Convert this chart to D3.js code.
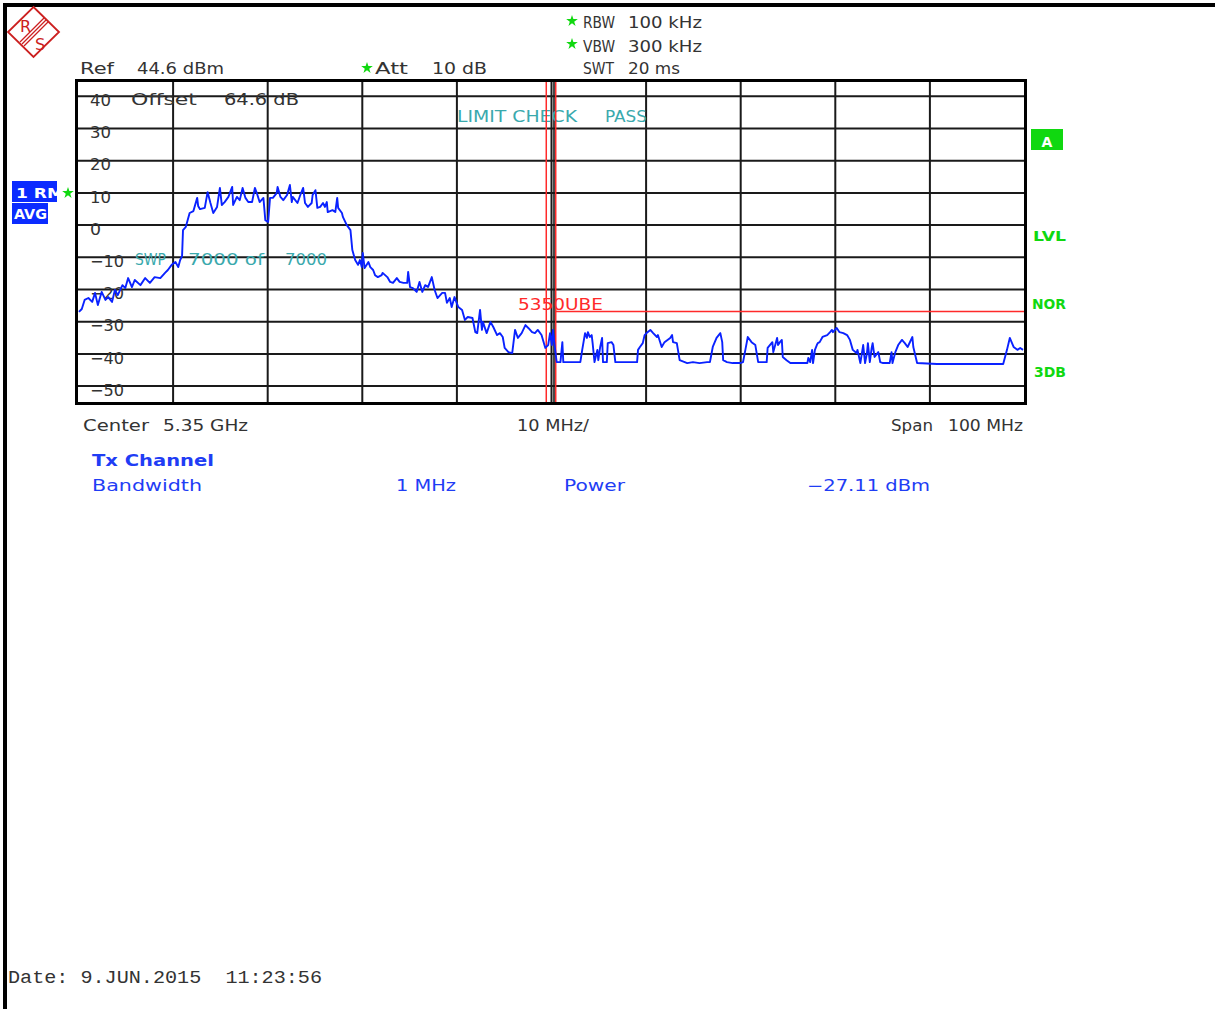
<!DOCTYPE html>
<html><head><meta charset="utf-8">
<script src="https://cdn.jsdelivr.net/npm/d3@7"></script>
<style>html,body{margin:0;padding:0;background:#fff;} svg{display:block;} text{white-space:pre;}</style>
</head><body>
<svg id="c" width="1215" height="1009"></svg>
<script>
// ---------- data ----------
const centerGHz = 5.35;
const freqMHz = [
-49.9,-49.6,-49.3,-48.9,-48.5,-48.2,-47.9,-47.5,-47.1,-46.8,
-46.4,-46.1,-45.8,-45.3,-45.0,-44.7,-44.3,-44.0,-43.4,-42.9,
-42.4,-41.9,-41.3,-40.8,-40.5,-40.1,-39.7,-39.4,-39.2,-39.0,
-38.9,-38.6,-38.2,-37.8,-37.4,-37.3,-37.1,-36.6,-36.3,-36.0,
-35.7,-35.3,-35.0,-34.8,-34.5,-34.1,-33.7,-33.6,-33.2,-32.9,
-32.6,-32.3,-32.0,-31.6,-31.3,-31.1,-30.8,-30.4,-30.2,-29.9,
-29.7,-29.4,-29.0,-28.9,-28.6,-28.3,-27.9,-27.6,-27.4,-27.3,
-26.8,-26.5,-26.2,-26.0,-25.7,-25.3,-25.2,-24.9,-24.7,-24.4,
-24.1,-23.9,-23.7,-23.6,-23.1,-22.8,-22.6,-22.5,-22.1,-22.0,
-21.6,-21.2,-21.0,-20.7,-20.4,-20.2,-20.0,-19.9,-19.7,-19.3,
-19.1,-18.8,-18.6,-18.3,-17.9,-17.8,-17.3,-17.0,-16.7,-16.3,
-16.0,-15.6,-15.2,-15.1,-14.9,-14.6,-14.2,-13.9,-13.6,-13.3,
-13.0,-12.6,-12.3,-12.0,-11.5,-11.2,-11.0,-10.7,-10.5,-10.2,
-9.8,-9.4,-9.1,-8.8,-8.3,-8.0,-7.8,-7.5,-7.3,-7.2,
-6.8,-6.4,-6.1,-5.7,-5.4,-5.1,-4.9,-4.5,-4.1,-3.8,
-3.5,-3.1,-2.7,-2.4,-2.0,-1.7,-1.4,-1.0,-0.6,-0.3,
-0.1,0.1,0.2,0.4,0.6,1.0,1.2,1.3,1.7,3.1,
3.3,3.6,3.8,3.9,4.1,4.3,4.4,4.6,4.9,5.0,
5.2,5.4,5.5,5.9,6.0,6.4,6.6,6.8,9.1,9.2,
9.4,9.7,9.9,10.2,10.5,10.8,11.2,11.3,11.7,12.0,
12.6,12.8,12.9,13.3,13.6,14.4,15.0,15.7,16.5,16.8,
17.1,17.5,17.9,18.1,18.2,18.6,19.2,20.0,20.3,20.7,
20.8,21.2,21.6,21.9,22.8,22.9,23.4,23.5,23.9,24.0,
24.2,24.4,24.5,24.9,25.3,27.1,27.2,27.4,27.6,27.7,
27.9,28.1,28.2,28.4,28.7,29.2,29.5,29.7,29.8,30.2,
30.5,30.9,31.3,31.6,31.9,32.3,32.4,32.7,33.0,33.2,
33.4,33.5,33.7,33.9,34.0,34.2,34.6,34.8,35.1,35.8,
36.0,36.1,36.4,36.7,37.1,37.4,37.7,38.2,38.3,38.7,
40.8,47.8,48.2,48.5,48.9,49.3,49.6,49.9];
const levelDbm = [
-27.1,-26.2,-23.4,-22.8,-24.0,-21.2,-25.0,-20.9,-23.4,-22.5,
-24.0,-20.3,-21.9,-18.8,-19.7,-16.6,-19.4,-17.2,-18.8,-16.6,
-18.1,-16.3,-16.6,-15.0,-14.1,-12.5,-11.6,-13.2,-11.0,-9.8,
-1.7,-0.7,3.6,4.2,8.3,5.8,4.8,5.2,10.1,6.7,
3.6,5.5,11.4,6.1,7.0,8.6,11.7,6.1,8.6,7.6,
11.4,8.3,7.0,7.0,11.4,9.8,7.0,8.3,1.4,0.8,
8.3,8.3,9.8,11.7,8.6,7.6,9.2,12.3,7.0,8.6,
6.7,9.2,11.4,6.7,5.5,6.7,9.2,10.7,5.2,5.5,
6.7,5.5,7.0,3.9,4.5,3.9,8.3,5.2,3.6,2.4,
-0.1,-1.7,-7.9,-11.0,-12.5,-11.0,-13.2,-8.8,-13.5,-11.6,
-13.2,-14.1,-15.7,-16.3,-15.7,-15.0,-16.3,-17.8,-18.1,-16.6,
-17.8,-18.1,-18.1,-14.7,-19.4,-19.7,-20.9,-17.8,-20.9,-18.8,
-19.4,-16.3,-20.3,-22.8,-21.2,-21.2,-24.3,-22.8,-25.6,-22.5,
-25.6,-26.5,-29.6,-28.7,-29.0,-33.4,-33.7,-26.5,-32.7,-30.2,
-33.7,-30.2,-31.8,-34.3,-33.7,-34.9,-38.3,-39.6,-39.9,-32.7,
-35.2,-33.7,-31.2,-32.1,-33.4,-33.7,-32.7,-34.3,-38.3,-37.4,
-33.7,-37.4,-32.7,-38.0,-42.7,-42.7,-36.5,-42.7,-42.7,-42.7,
-38.9,-33.7,-35.2,-33.4,-34.9,-34.3,-36.8,-42.7,-38.9,-42.1,
-38.0,-35.2,-42.7,-42.7,-36.8,-36.5,-37.4,-42.7,-42.7,-38.9,
-38.0,-36.8,-34.3,-33.4,-32.7,-33.7,-34.9,-34.3,-38.0,-36.5,
-35.2,-34.3,-36.5,-36.8,-42.1,-43.0,-42.7,-43.0,-42.7,-42.7,
-38.0,-35.2,-33.7,-36.5,-42.1,-42.7,-43.0,-43.0,-42.7,-36.5,
-34.9,-36.5,-37.4,-42.7,-42.7,-38.3,-36.5,-39.6,-35.2,-37.4,
-36.5,-35.8,-41.1,-42.1,-43.0,-43.0,-41.4,-42.7,-38.9,-43.0,
-38.9,-37.4,-36.8,-36.5,-34.9,-34.3,-33.4,-32.7,-33.4,-32.1,
-33.4,-33.7,-34.3,-35.8,-38.9,-39.9,-38.9,-43.0,-37.4,-43.0,
-39.9,-36.8,-42.7,-38.3,-36.8,-41.1,-39.6,-42.7,-43.0,-43.0,
-39.6,-43.0,-39.6,-37.4,-35.8,-36.8,-38.0,-34.9,-38.0,-43.0,
-43.3,-43.3,-38.9,-35.2,-38.0,-38.9,-38.3,-38.9];
const yTickValues = [40,30,20,10,0,-10,-20,-30,-40,-50];
const xGridValues = [-40,-30,-20,-10,0,10,20,30,40];
const spanMHz = [-50, 50];
const refLevelDbm = 44.6, bottomLevelDbm = -55.4;
const channelEdgesMHz = [-0.5, 0.5];
const limitFreqMHz = [0.5, 50];
const limitDbm = [-27, -27];

// ---------- layout ----------
const svg = d3.select("#c");
const L = 78, R = 1024, T = 81, B = 403;
const x = d3.scaleLinear().domain(spanMHz).range([L, R]);
const y = d3.scaleLinear().domain([bottomLevelDbm, refLevelDbm]).range([B, T]);
const DARK = "#333", TEAL = "#3aa9ad", RED = "#ff2a2a", BLUE = "#1f3df5", GREEN = "#10d810", TRACE = "#0a22ff";
const FONT = "'DejaVu Sans', sans-serif";

function txt(s, tx, ty, w, o = {}) {
  const t = svg.append("text").attr("x", tx).attr("y", ty).text(s)
    .attr("font-family", o.family || FONT).attr("font-size", o.size || 15)
    .attr("fill", o.fill || DARK).attr("font-weight", o.weight || "normal");
  if (w) t.attr("textLength", w).attr("lengthAdjust", "spacingAndGlyphs");
  if (o.anchor) t.attr("text-anchor", o.anchor);
  return t;
}
function star(cx, cy) {
  svg.append("path").attr("d", d3.symbol(d3.symbolStar, 42)()).attr("transform", `translate(${cx},${cy})`).attr("fill", GREEN);
}

// outer page frame
svg.append("rect").attr("x", 3).attr("y", 3).attr("width", 4).attr("height", 1006).attr("fill", "#000");
svg.append("rect").attr("x", 3).attr("y", 3).attr("width", 1212).attr("height", 4).attr("fill", "#000");

// R&S logo
const logo = svg.append("g").attr("stroke", "#cc2020").attr("fill", "none");
logo.append("path").attr("d", "M33.5,7 L59,32 L33.5,57 L8,32 Z").attr("stroke-width", 1.8);
[-2, 0, 2].forEach(o => logo.append("line").attr("x1", 22 + o).attr("y1", 44 + o).attr("x2", 46 + o).attr("y2", 20 + o).attr("stroke-width", 1.2));
txt("R", 20, 32, null, {fill: "#cc2020", size: 16});
txt("S", 35, 50, null, {fill: "#cc2020", size: 16});

// header
txt("Ref", 80, 74, 34); txt("44.6 dBm", 137, 74, 87);
star(367, 68); txt("Att", 375, 74, 33); txt("10 dB", 432, 74, 55);
star(572, 21); txt("RBW", 583, 28, 32); txt("100 kHz", 628, 28, 74);
star(572, 44); txt("VBW", 583, 51.5, 32); txt("300 kHz", 628, 51.5, 74);
txt("SWT", 583, 74, 31); txt("20 ms", 628, 74, 52);

// left trace boxes
svg.append("clipPath").attr("id", "bx1").append("rect").attr("x", 12).attr("y", 181).attr("width", 45).attr("height", 21);
svg.append("rect").attr("x", 12).attr("y", 181).attr("width", 45).attr("height", 21).attr("fill", "#0b2bff");
txt("1 RM", 16, 198, 48, {fill: "#fff", weight: "bold", size: 14}).attr("clip-path", "url(#bx1)");
svg.append("rect").attr("x", 12).attr("y", 203).attr("width", 36).attr("height", 21).attr("fill", "#0b2bff");
txt("AVG", 14, 219, 33, {fill: "#fff", weight: "bold", size: 14});
star(68, 193);

// grid
const grid = svg.append("g");
grid.append("g").attr("transform", `translate(0,${B})`)
  .call(d3.axisBottom(x).tickValues(xGridValues).tickSize(-(B - T)).tickFormat(""))
  .call(g => g.select(".domain").remove())
  .call(g => g.selectAll("line").attr("stroke", "#1a1a1a").attr("stroke-width", 2));
grid.append("g").attr("transform", `translate(${L},0)`)
  .call(d3.axisLeft(y).tickValues(yTickValues).tickSize(-(R - L)).tickFormat(""))
  .call(g => g.select(".domain").remove())
  .call(g => g.selectAll("line").attr("stroke", "#1a1a1a").attr("stroke-width", 2));
// second center line
svg.append("line").attr("x1", x(0) + 3).attr("x2", x(0) + 3).attr("y1", T).attr("y2", B).attr("stroke", "#1a1a1a").attr("stroke-width", 1.6);

// y labels (inside plot)
svg.append("g").attr("transform", `translate(${L},4.5)`)
  .call(d3.axisRight(y).tickValues(yTickValues).tickSize(0).tickPadding(12)
    .tickFormat(d => d < 0 ? "\u2212" + Math.abs(d) : String(d)))
  .call(g => g.select(".domain").remove())
  .call(g => g.selectAll("text").attr("font-family", FONT).attr("font-size", 16).attr("fill", DARK)
    .attr("textLength", d => d < 0 ? 34 : (d === 0 ? 11 : 21)).attr("lengthAdjust", "spacingAndGlyphs"));

// in-plot annotations
txt("Offset", 131, 105, 66); txt("64.6 dB", 224, 105, 75);
txt("LIMIT CHECK", 457, 122, 120, {fill: TEAL}); txt("PASS", 605, 122, 42, {fill: TEAL});
txt("SWP", 135, 265, 31, {fill: TEAL}); txt("7000 of", 188, 265, 76, {fill: TEAL}); txt("7000", 285, 265, 42, {fill: TEAL});

// channel edges & limit line
channelEdgesMHz.forEach(f => svg.append("line").attr("x1", x(f)).attr("x2", x(f)).attr("y1", T).attr("y2", B).attr("stroke", RED).attr("stroke-width", 1.5));
svg.append("path").datum(limitFreqMHz.map((f, i) => [f, limitDbm[i]]))
  .attr("d", d3.line().x(d => x(d[0])).y(d => y(d[1]))).attr("stroke", RED).attr("stroke-width", 1.5).attr("fill", "none");
txt("5350UBE", 518, 310, 85, {fill: RED});

// trace
svg.append("clipPath").attr("id", "plotclip").append("rect").attr("x", L).attr("y", T).attr("width", R - L).attr("height", B - T);
svg.append("path").datum(freqMHz.map((f, i) => [f, levelDbm[i]]))
  .attr("clip-path", "url(#plotclip)")
  .attr("d", d3.line().x(d => x(d[0])).y(d => y(d[1])))
  .attr("fill", "none").attr("stroke", TRACE).attr("stroke-width", 1.9).attr("stroke-linejoin", "round");

// frame
svg.append("rect").attr("x", L - 1.5).attr("y", T - 0.5).attr("width", R - L + 3).attr("height", B - T + 1)
  .attr("fill", "none").attr("stroke", "#000").attr("stroke-width", 3);

// right-side labels
svg.append("rect").attr("x", 1031).attr("y", 129).attr("width", 32).attr("height", 21).attr("fill", GREEN);
txt("A", 1047, 147, null, {fill: "#fff", weight: "bold", size: 14, anchor: "middle"});
txt("LVL", 1033, 241, 33, {fill: GREEN, weight: "bold", size: 14});
txt("NOR", 1032, 309, 34, {fill: GREEN, weight: "bold", size: 14});
txt("3DB", 1034, 377, 32, {fill: GREEN, weight: "bold", size: 14});

// bottom axis annotations
txt("Center", 83, 431, 66); txt(centerGHz.toFixed(2) + " GHz", 163, 431, 85);
txt("10 MHz/", 517, 431, 72);
txt("Span", 891, 431, 42); txt((spanMHz[1] - spanMHz[0]) + " MHz", 948, 431, 75);

// channel power table
txt("Tx Channel", 92, 466, 122, {fill: BLUE, weight: "bold"});
txt("Bandwidth", 92, 491, 110, {fill: BLUE}); txt("1 MHz", 396, 491, 60, {fill: BLUE});
txt("Power", 564, 491, 61, {fill: BLUE}); txt("\u221227.11 dBm", 807, 491, 123, {fill: BLUE});

// date
txt("Date: 9.JUN.2015  11:23:56", 8, 983, 314, {family: "'Liberation Mono', 'DejaVu Sans Mono', monospace", size: 19});
</script>
</body></html>
